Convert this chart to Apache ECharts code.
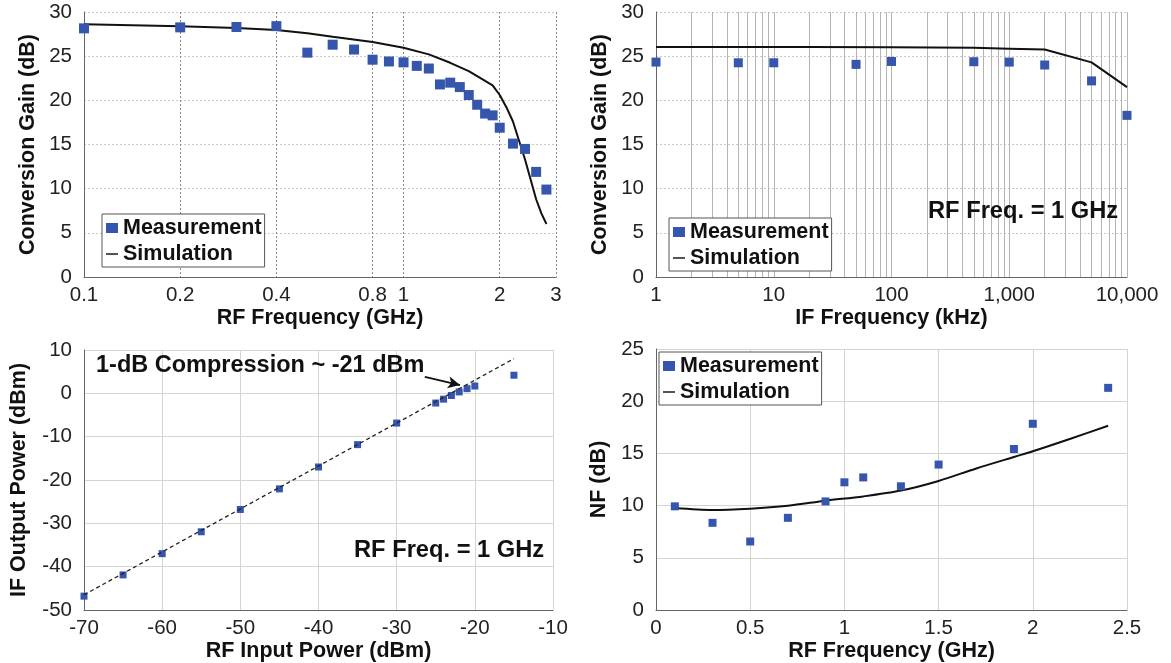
<!DOCTYPE html>
<html>
<head>
<meta charset="utf-8">
<script src="https://cdn.jsdelivr.net/npm/echarts@6/dist/echarts.min.js"></script>
<style>
html,body{margin:0;padding:0;background:#fff;}
#chart{width:1171px;height:663px;}
</style>
</head>
<body>
<div id="chart"></div>
<script>
// Panel 1: conversion gain vs RF frequency
const rfFreq1 = [0.1,0.2,0.3,0.4,0.5,0.6,0.7,0.8,0.9,1.0,1.1,1.2,1.3,1.4,1.5,1.6,1.7,1.8,1.9,2.0,2.2,2.4,2.6,2.8];
const gainMeas1 = [28.15,28.26,28.3,28.4,25.4,26.3,25.75,24.6,24.4,24.3,23.9,23.6,21.8,22.0,21.5,20.6,19.5,18.5,18.3,16.9,15.1,14.5,11.9,9.9];
const simFreq1 = [0.1,0.2,0.3,0.4,0.5,0.6,0.8,1.0,1.2,1.4,1.6,1.8,1.9,2.0,2.1,2.2,2.3,2.4,2.5,2.6,2.7,2.8];
const gainSim1 = [28.6,28.4,28.2,27.95,27.6,27.2,26.6,25.95,25.2,24.25,23.3,22.2,21.7,20.6,19.2,17.6,15.4,13.3,11.0,8.8,7.2,6.0];
const rfTicks1 = [0.1,0.2,0.4,0.8,1,2,3];

// Panel 2: conversion gain vs IF frequency
const ifFreq = [1,5,10,50,100,500,1000,2000,5000,10000];
const gainMeas2 = [24.33,24.25,24.25,24.07,24.4,24.37,24.33,24.0,22.2,18.3];
const simIfFreq = [1,20,100,500,1000,2000,5000,10000];
const gainSim2 = [26.05,26.05,26.0,25.95,25.85,25.75,24.3,21.5];
const ifLabelTicks = [1,10,100,1000,10000];
const ifGridTicks = [1,2,3,4,5,6,7,8,9,10,20,30,40,50,60,70,80,90,100,200,300,400,500,600,700,800,900,1000,2000,3000,4000,5000,6000,7000,8000,9000,10000];

// Panel 3: IF output power vs RF input power
const pin = [-70,-65,-60,-55,-50,-45,-40,-35,-30,-25,-24,-23,-22,-21,-20,-15];
const pout = [-46.8,-41.9,-37,-31.95,-26.8,-22.05,-17.0,-11.84,-6.86,-2.24,-1.34,-0.5,0.33,1.08,1.69,4.18];
const idealPin = [-70,-15];
const idealPout = [-46.5,8];
const arrowFrom = [-26.4,3.8];
const arrowTo = [-21.9,1.9];

// Panel 4: NF vs RF frequency
const nfFreq = [0.1,0.3,0.5,0.7,0.9,1.0,1.1,1.3,1.5,1.9,2.0,2.4];
const nfMeas = [9.93,8.35,6.56,8.83,10.4,12.23,12.7,11.85,13.93,15.42,17.84,21.28];
const nfSimFreq = [0.1,0.3,0.5,0.7,0.9,1.1,1.3,1.5,1.7,1.9,2.0,2.2,2.4];
const nfSim = [9.77,9.58,9.71,9.99,10.47,10.88,11.44,12.36,13.56,14.66,15.2,16.4,17.65];

const zip = (a,b) => a.map((v,i)=>[v,b[i]]);
const FONT = 'Liberation Sans, Arial, sans-serif';
const BLUE = '#3656ad';
const tickLabel = {fontFamily: FONT, fontSize: 20.5, color: '#222'};
const nameStyle = {fontFamily: FONT, fontSize: 21.5, fontWeight: 'bold', color: '#111'};
const axisLineStyle = {show: true, onZero: false, lineStyle: {color: '#666', width: 1}};
const lightGrid = {show: true, lineStyle: {color: '#d4d4d4', width: 1}};
const dotGrid = {show: true, lineStyle: {color: '#c8c8c8', width: 1, type: [2,2]}};
const LINE_ICON = 'path://M0,0H20V2.4H0Z';

function yAxisCfg(grid, name, min, max, interval, gap, split) {
  return {type:'value', gridIndex:grid, min, max, interval, name, nameLocation:'middle', nameGap:gap,
    nameTextStyle: nameStyle, axisLine: axisLineStyle, axisTick:{show:false},
    axisLabel: Object.assign({margin: 12}, tickLabel), splitLine: split};
}
function legendCfg(left, top) {
  return {left, top, orient:'vertical',
    data:[{name:'Measurement', icon:'rect'},{name:'Simulation', icon: LINE_ICON}],
    itemWidth:12, itemHeight:10, itemGap:4,
    padding:[3,3,2,4], borderColor:'#555', borderWidth:1, backgroundColor:'#fff',
    textStyle:{fontFamily:FONT, fontSize:21.5, fontWeight:'bold', color:'#111', lineHeight:22}};
}

const chart = echarts.init(document.getElementById('chart'), null, {renderer:'canvas'});
const option = {
  animation: false,
  backgroundColor: '#fff',
  grid: [
    {left:84, top:12, width:472, height:265},
    {left:656, top:12, width:471, height:265},
    {left:84, top:350, width:469, height:263},
    {left:656, top:349, width:471, height:264}
  ],
  xAxis: [
    {type:'log', gridIndex:0, min:0.1, max:3, name:'RF Frequency (GHz)', nameLocation:'middle', nameGap:30,
     nameTextStyle:nameStyle, axisLine:axisLineStyle,
     axisTick:{show:false, customValues: rfTicks1},
     axisLabel: Object.assign({margin:8, customValues: rfTicks1, formatter: v => String(+v.toPrecision(3))}, tickLabel),
     splitLine:{show:true, lineStyle:{color:'#8a8a8a', width:1, type:[2,2]}}},
    {type:'log', gridIndex:1, min:1, max:10000, name:'IF Frequency (kHz)', nameLocation:'middle', nameGap:30,
     nameTextStyle:nameStyle, axisLine:axisLineStyle,
     axisTick:{show:false, customValues: ifGridTicks},
     axisLabel: Object.assign({margin:8, customValues: ifLabelTicks, formatter: v => Math.round(v).toLocaleString('en-US')}, tickLabel),
     splitLine:{show:true, lineStyle:{color:'#b4b4b4', width:1}}},
    {type:'value', gridIndex:2, min:-70, max:-10, interval:10, name:'RF Input Power (dBm)', nameLocation:'middle', nameGap:30,
     nameTextStyle:nameStyle, axisLine:axisLineStyle, axisTick:{show:false},
     axisLabel:Object.assign({margin:8}, tickLabel), splitLine: lightGrid},
    {type:'value', gridIndex:3, min:0, max:2.5, interval:0.5, name:'RF Frequency (GHz)', nameLocation:'middle', nameGap:30,
     nameTextStyle:nameStyle, axisLine:axisLineStyle, axisTick:{show:false},
     axisLabel:Object.assign({margin:8}, tickLabel), splitLine: lightGrid}
  ],
  yAxis: [
    yAxisCfg(0, 'Conversion Gain (dB)', 0, 30, 5, 45, dotGrid),
    yAxisCfg(1, 'Conversion Gain (dB)', 0, 30, 5, 45, dotGrid),
    yAxisCfg(2, 'IF Output Power (dBm)', -50, 10, 10, 54, lightGrid),
    yAxisCfg(3, 'NF (dB)', 0, 25, 5, 46, lightGrid)
  ],
  legend: [legendCfg(102, 214), legendCfg(669, 218), legendCfg(659, 352)],
  series: [
    {name:'Simulation', type:'line', xAxisIndex:0, yAxisIndex:0, data: zip(simFreq1, gainSim1), symbol:'none',
     lineStyle:{color:'#111', width:2}, itemStyle:{color:'#111'}, z:3},
    {name:'Measurement', type:'scatter', xAxisIndex:0, yAxisIndex:0, data: zip(rfFreq1, gainMeas1), symbol:'rect',
     symbolSize:10, itemStyle:{color:BLUE, opacity:1}, z:4},
    {name:'Simulation', type:'line', xAxisIndex:1, yAxisIndex:1, data: zip(simIfFreq, gainSim2), symbol:'none',
     lineStyle:{color:'#111', width:2}, itemStyle:{color:'#111'}, z:3},
    {name:'Measurement', type:'scatter', xAxisIndex:1, yAxisIndex:1, data: zip(ifFreq, gainMeas2), symbol:'rect',
     symbolSize:9, itemStyle:{color:BLUE, opacity:1}, z:4},
    {name:'Ideal', type:'line', xAxisIndex:2, yAxisIndex:2, data: zip(idealPin, idealPout), symbol:'none',
     lineStyle:{color:'#222', width:1.3, type:[4,3]}, z:4,
     markLine:{silent:true, symbol:['none','arrow'], symbolSize:[9,12], label:{show:false},
       lineStyle:{color:'#111', width:2, type:'solid'},
       data:[[{coord: arrowFrom},{coord: arrowTo}]]}},
    {name:'Pout', type:'scatter', xAxisIndex:2, yAxisIndex:2, data: zip(pin, pout), symbol:'rect',
     symbolSize:7, itemStyle:{color:BLUE, opacity:1}, z:3},
    {name:'Simulation', type:'line', xAxisIndex:3, yAxisIndex:3, data: zip(nfSimFreq, nfSim), symbol:'none', smooth:0.3,
     lineStyle:{color:'#111', width:2}, itemStyle:{color:'#111'}, z:3},
    {name:'Measurement', type:'scatter', xAxisIndex:3, yAxisIndex:3, data: zip(nfFreq, nfMeas), symbol:'rect',
     symbolSize:8, itemStyle:{color:BLUE, opacity:1}, z:4}
  ],
  graphic: [
    {type:'text', left:928, top:199, z:10, style:{text:'RF Freq. = 1 GHz', fontFamily:FONT, fontSize:23.7, fontWeight:'bold', fill:'#111'}},
    {type:'text', left:354, top:538, z:10, style:{text:'RF Freq. = 1 GHz', fontFamily:FONT, fontSize:23.7, fontWeight:'bold', fill:'#111'}},
    {type:'text', left:96, top:354, z:10, style:{text:'1-dB Compression ~ -21 dBm', fontFamily:FONT, fontSize:23.5, fontWeight:'bold', fill:'#111'}}
  ]
};
chart.setOption(option);
</script>
</body>
</html>
